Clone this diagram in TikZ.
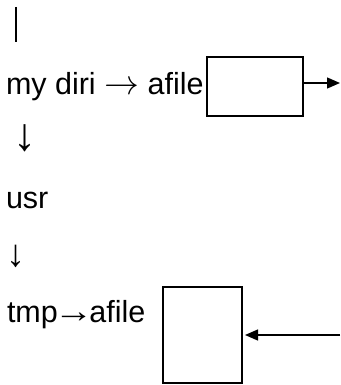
\documentclass[tikz,border=0pt]{standalone}
\usepackage{fontspec}
\setmainfont{Liberation Sans}
\usetikzlibrary{arrows.meta}
\begin{document}
\begin{tikzpicture}[x=1pt,y=-1pt,
  label/.style={inner sep=0pt,outer sep=0pt,anchor=base west,
    font=\fontsize{30.5}{36}\selectfont},
  glyph/.style={inner sep=0pt,outer sep=0pt},
  filebox/.style={draw,line width=1.6pt,inner sep=0pt,outer sep=0pt},
  link/.style={line width=1.3pt,-{Triangle[length=13pt,width=11pt]}}]
  \useasboundingbox[fill=white] (0,0) rectangle (340,385);

  % text cursor at the top
  \coordinate (cursorTop) at (16,7);
  \coordinate (cursorBot) at (16,42);
  \draw[line width=1.2pt] (cursorTop) -- (cursorBot);

  % path names
  \node[label] (mydir) at (6,95) {my diri \scalebox{1.4}{$\rightarrow$} afile};
  \node[glyph,font=\fontsize{46}{50}\selectfont] (down1) at (25,138) {↓};
  \node[label] (usr) at (6,208) {usr};
  \node[glyph,font=\fontsize{38}{42}\selectfont] (down2) at (16,256) {↓};
  \node[label] (tmp) at (7,322) {tmp\kern-4pt\scalebox{1.3}[1.1]{→}\kern-4pt afile};

  % file boxes
  \node[filebox,minimum width=96pt,minimum height=59pt] (box1) at (255,86.5) {};
  \node[filebox,minimum width=79pt,minimum height=96pt] (box2) at (202.5,335) {};

  % connectors leaving and entering at the right edge
  \coordinate (outR) at (340,83);
  \coordinate (inR) at (340,335);
  \draw[link] (box1.east |- outR) -- (outR);
  \draw[link,shorten >=3pt] (inR) -- (box2.east);
\end{tikzpicture}
\end{document}
